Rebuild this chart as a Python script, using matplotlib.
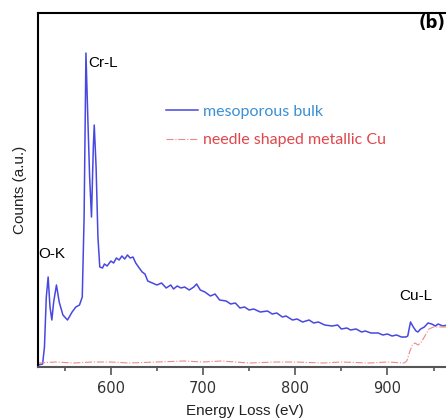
import matplotlib.pyplot as plt
import numpy as np

# Спектр EELS: мезопористый образец и металлическая медь

bulk_ev = [521, 526, 528, 530, 532, 534, 536, 538, 541, 544, 548, 553, 558, 562,
           566, 569, 571, 573, 575, 577, 579, 581, 582, 584, 586, 588, 591, 593,
           596, 600, 603, 606, 609, 612, 615, 618, 621, 624, 627, 630, 634, 637,
           640, 645, 650, 655, 660, 665, 668, 672, 676, 680, 685, 690, 693, 697,
           702, 708, 713, 718, 725, 730, 735, 740, 745, 750, 755, 762, 770, 775,
           780, 786, 790, 797, 802, 808, 815, 820, 825, 832, 840, 846, 850, 856,
           860, 866, 872, 876, 882, 890, 895, 900, 905, 910, 915, 920, 922, 925,
           928, 931, 933, 936, 940, 944, 948, 952, 955, 960, 965, 970]
bulk_counts = [2, 3, 20, 70, 90, 60, 47, 65, 82, 65, 52, 47, 55, 60,
               62, 70, 150, 314, 250, 190, 150, 220, 242, 200, 130, 100, 99, 103,
               101, 106, 104, 109, 107, 111, 108, 112, 109, 110, 104, 100, 95, 93,
               86, 84, 82, 84, 79, 82, 78, 81, 79, 80, 77, 80, 83, 77,
               75, 71, 73, 67, 66, 63, 64, 59, 60, 57, 58, 55, 56, 53,
               54, 50, 51, 47, 48, 45, 47, 44, 45, 42, 41, 42, 38, 39,
               37, 38, 35, 36, 34, 34, 32, 33, 31, 32, 30, 30, 31, 45,
               40, 36, 35, 38, 40, 44, 43, 41, 43, 41, 42, 42]

cu_ev = [521, 540, 560, 580, 600, 620, 650, 680, 700, 720, 750, 780, 800, 830,
         850, 880, 900, 918, 921, 924, 927, 930, 933, 936, 940, 945, 950, 960, 970]
cu_counts = [4, 5, 4, 5, 5, 4, 5, 6, 5, 6, 4, 5, 5, 4,
             5, 4, 5, 4, 6, 15, 22, 24, 22, 24, 30, 38, 40, 40, 40]

labels = ['mesoporous bulk', 'needle shaped metallic Cu']
label_colors = ['#3b8fd4', '#e0474c']

fig = plt.figure(figsize=(4.46, 4.19), dpi=100)
ax = fig.add_axes([38 / 446, 52 / 419, 414 / 446, 354 / 419])

ax.plot(bulk_ev, bulk_counts, color='#4848e0', linewidth=1.1, label=labels[0])
ax.plot(cu_ev, cu_counts, color='#ec8a8a', linewidth=0.8, linestyle='-.',
        label=labels[1])

ax.set_xlim(521, 970)
ax.set_ylim(0, 354)
ax.set_yticks([])
ax.set_xticks([600, 700, 800, 900])
ax.set_xticks([550, 650, 750, 850, 950], minor=True)
ax.tick_params(axis='x', which='major', direction='out', length=6, width=1.2,
               color='#555555', labelsize=10.5, labelcolor='#333333', pad=4)
ax.tick_params(axis='x', which='minor', direction='out', length=3, width=1.2,
               color='#555555')

for side in ['left', 'top', 'bottom']:
    ax.spines[side].set_linewidth(1.5)
ax.spines['bottom'].set_color('#555555')

ax.set_xlabel('Energy Loss (eV)', fontsize=11, family='Liberation Sans',
              color='#222222', labelpad=6)
ax.set_ylabel('Counts (a.u.)', fontsize=11, family='Liberation Sans',
              color='#222222', labelpad=8)

ax.text(575.5, 300, 'Cr-L', fontsize=11, family='Liberation Sans')
ax.text(521.5, 109, 'O-K', fontsize=11, family='Liberation Sans')
ax.text(913, 67, 'Cu-L', fontsize=11, family='Liberation Sans')
ax.text(934, 339, '(b)', fontsize=12, fontweight='bold', family='DejaVu Sans')

leg = ax.legend(loc='upper left', bbox_to_anchor=(152 / 446, 1 - 90 / 419),
                bbox_transform=fig.transFigure, frameon=False,
                handlelength=2.0, handletextpad=0.3, labelspacing=0.9,
                prop={'family': 'Lato', 'size': 11.5}, labelcolor=label_colors)

fig.savefig('out.png', dpi=100)
